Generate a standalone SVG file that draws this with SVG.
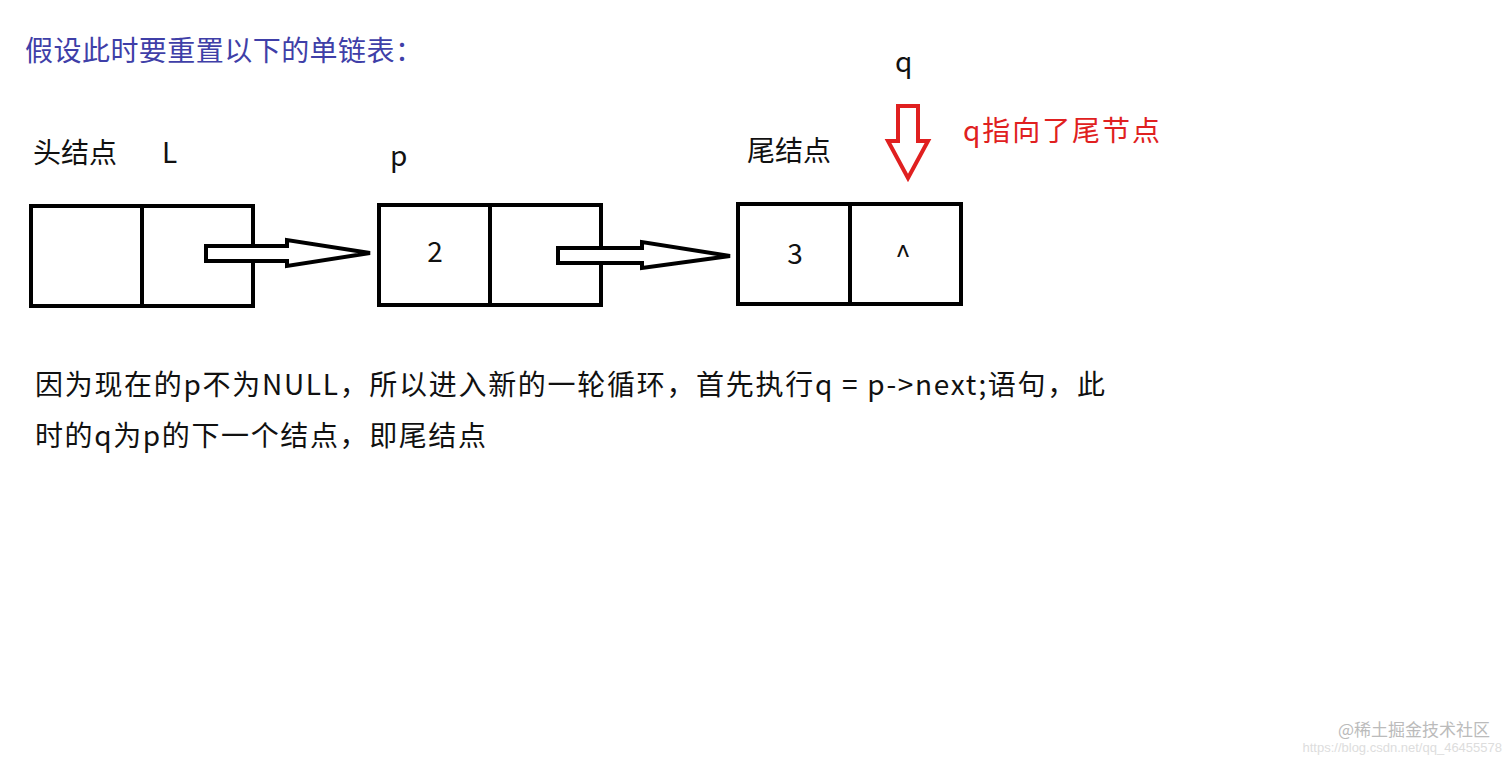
<svg xmlns="http://www.w3.org/2000/svg" width="1512" height="763" viewBox="0 0 1512 763">
<style>
.t{font-family:"Microsoft YaHei","Noto Sans CJK SC",sans-serif;font-size:28px;fill:#111}
.box{fill:#fff;stroke:#000;stroke-width:4}
.ar{fill:#fff;stroke:#000;stroke-width:4;stroke-linejoin:miter}
</style>
<rect width="1512" height="763" fill="#fff"/>
<text x="25" y="61" class="t" style="fill:#3f3fa8" textLength="398">假设此时要重置以下的单链表：</text>
<text x="895" y="72" class="t">q</text>
<text x="33" y="163" class="t">头结点</text>
<text x="162" y="163" class="t">L</text>
<text x="390" y="166" class="t">p</text>
<text x="747" y="161" class="t">尾结点</text>
<text x="963" y="141" class="t" style="fill:#e02020" textLength="197">q指向了尾节点</text>
<g id="node1"><rect class="box" x="31" y="206" width="222" height="100"/><line x1="142" y1="206" x2="142" y2="306" stroke="#000" stroke-width="4"/></g>
<g id="node2"><rect class="box" x="379" y="205" width="222" height="100"/><line x1="490" y1="205" x2="490" y2="305" stroke="#000" stroke-width="4"/><text x="435" y="262" class="t" text-anchor="middle">2</text></g>
<g id="node3"><rect class="box" x="738" y="204" width="223" height="100"/><line x1="850" y1="204" x2="850" y2="304" stroke="#000" stroke-width="4"/><text x="795" y="264" class="t" text-anchor="middle">3</text><text x="903" y="266" class="t" text-anchor="middle">^</text></g>
<g id="connectors">
<polygon class="ar" points="206,246 287,246 287,240 370,253 287,266 287,261 206,261"/>
<polygon class="ar" points="558,248 642,248 642,242 730,256 642,268 642,263 558,263"/>
<polygon points="898,106 918,106 918,141 928,141 908,178 888,141 898,141" fill="#fff" stroke="#e02020" stroke-width="4"/>
</g>
<text x="35" y="395" class="t" textLength="1070">因为现在的p不为NULL，所以进入新的一轮循环，首先执行q = p-&gt;next;语句，此</text>
<text x="35" y="446" class="t" textLength="451">时的q为p的下一个结点，即尾结点</text>
<text x="1490" y="736" text-anchor="end" style="font-family:'Noto Sans CJK SC',sans-serif;font-size:17px;fill:#bbb">@稀土掘金技术社区</text>
<text x="1502" y="752" text-anchor="end" style="font-family:'Liberation Sans',sans-serif;font-size:13px;fill:#ddd">https://blog.csdn.net/qq_46455578</text>
</svg>
